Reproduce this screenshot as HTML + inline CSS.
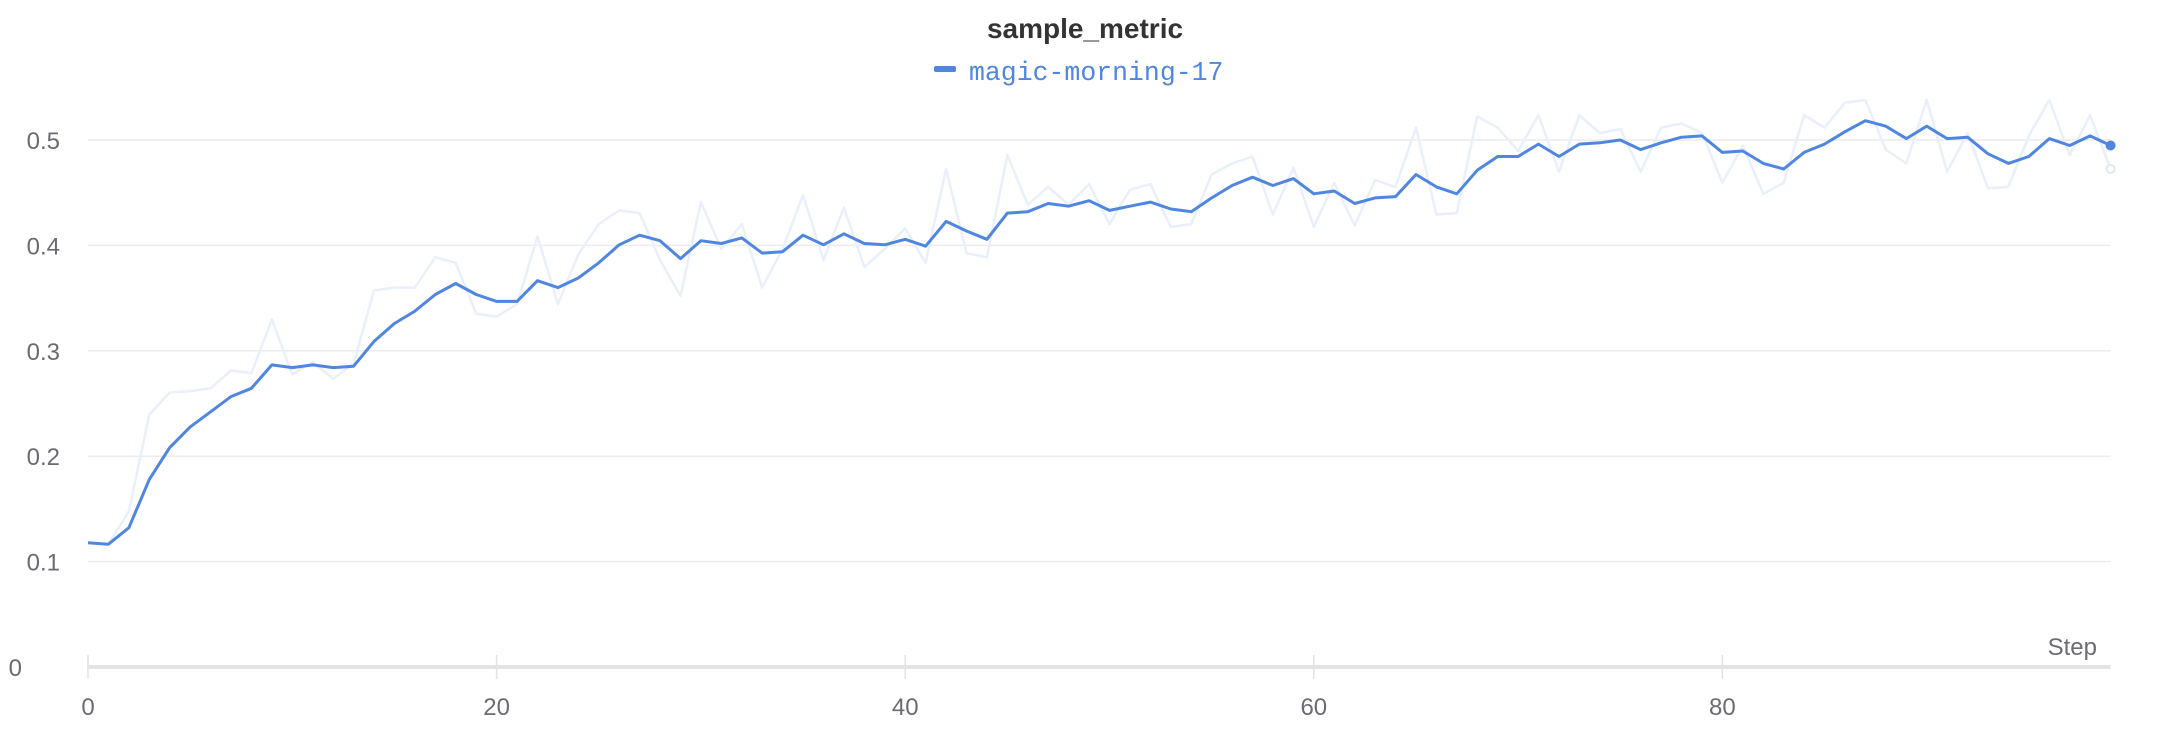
<!DOCTYPE html>
<html><head><meta charset="utf-8"><style>
html,body{margin:0;padding:0;background:#fff;width:2162px;height:738px;overflow:hidden}
svg{display:block}
</style></head><body>
<svg id="c" width="2162" height="738" xmlns="http://www.w3.org/2000/svg">
<text x="1085" y="38" text-anchor="middle" font-family="Liberation Sans, sans-serif" font-size="28" font-weight="bold" fill="#333">sample_metric</text>
<rect x="934" y="66" width="22" height="6" rx="2" fill="#4f86e0"/>
<text x="969" y="80" font-family="Liberation Mono, monospace" font-size="26.5" fill="#4f86e0">magic-morning-17</text>
<g id="grid"></g>
<g font-family="Liberation Sans, sans-serif" font-size="24" fill="#6b6b76" id="labels"></g>
<polyline id="raw" fill="none" stroke="#e9effb" stroke-width="2.5" stroke-linejoin="round"/>
<polyline id="sm" fill="none" stroke="#4f86e0" stroke-width="3" stroke-linejoin="round"/>
<circle id="rd" r="4" fill="#fff" stroke="#e0e7f5" stroke-width="2"/>
<circle id="sd" r="5" fill="#4f86e0"/>
</svg>
<script>
var S=[393,394,382,347,324,309,298,287,281,264,266,264,266,265,247,234,225,213,205,213,218,218,203,208,201,190,177,170,174,187,174,176,172,183,182,170,177,169,176,177,173,178,160,167,173,154,153,147,149,145,152,149,146,151,153,143,134,128,134,129,140,138,147,143,142,126,135,140,123,113,113,104,113,104,103,101,108,103,99,98,110,109,118,122,110,104,95,87,91,100,91,100,99,111,118,113,100,105,98,105];
var R=[393,394,370,300,284,283,281,268,270,231,271,262,274,263,210,208,208,186,190,227,229,220,171,220,184,162,152,154,188,214,146,180,162,208,180,141,188,150,193,180,165,190,122,183,186,112,148,135,148,133,162,137,133,164,162,126,118,113,155,121,164,132,163,130,135,92,155,154,84,92,109,83,124,83,96,93,124,92,89,96,132,105,140,132,83,92,74,72,108,118,72,124,96,136,135,98,72,112,83,122];
function X(i){return 88+i*20.43}
function Y(y){return 667-(483-y)*1.3796}
function pts(a){return a.map(function(y,i){return X(i).toFixed(1)+","+Y(y).toFixed(1)}).join(" ")}
document.getElementById("raw").setAttribute("points",pts(R));
document.getElementById("sm").setAttribute("points",pts(S));
var rd=document.getElementById("rd");rd.setAttribute("cx",X(99));rd.setAttribute("cy",Y(R[99]));
var sd=document.getElementById("sd");sd.setAttribute("cx",X(99));sd.setAttribute("cy",Y(S[99]));
var ns="http://www.w3.org/2000/svg",g=document.getElementById("grid"),L=document.getElementById("labels");
function el(p,t,a,txt){var e=document.createElementNS(ns,t);for(var k in a)e.setAttribute(k,a[k]);if(txt!=null)e.textContent=txt;p.appendChild(e);return e}
var XR=X(99);
for(var v=1;v<=5;v++){var y=667-v*105.4;el(g,"line",{x1:88,x2:XR,y1:y,y2:y,stroke:"#ececef","stroke-width":1.5});el(L,"text",{x:60,y:y+9,"text-anchor":"end"},"0."+v)}
el(L,"text",{x:22,y:676,"text-anchor":"end"},"0");
el(g,"line",{x1:88,x2:XR,y1:667,y2:667,stroke:"#e3e3e3","stroke-width":4});
for(var t=0;t<=80;t+=20){var x=X(t);el(g,"line",{x1:x,x2:x,y1:655,y2:679,stroke:"#e3e3e6","stroke-width":1.5});el(L,"text",{x:x,y:715,"text-anchor":"middle"},""+t)}
el(L,"text",{x:2097,y:655,"text-anchor":"end"},"Step");
</script>
</body></html>
